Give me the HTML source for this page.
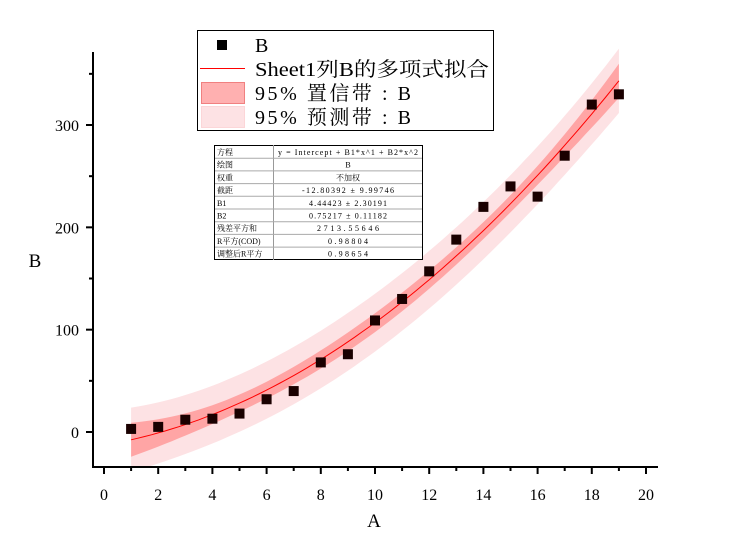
<!DOCTYPE html>
<html><head><meta charset="utf-8"><style>
html,body{margin:0;padding:0;background:#fff;width:743px;height:538px;overflow:hidden}
svg text{font-family:"Liberation Serif","Noto Serif CJK SC",serif}
</style></head><body>
<svg id="s" width="743" height="538" xmlns="http://www.w3.org/2000/svg">
<defs><clipPath id="c"><rect x="93" y="40" width="570" height="427"/></clipPath></defs>
<g id="bands" clip-path="url(#c)"></g>
<g id="pts"></g>
<g id="axes" stroke="#000" stroke-width="2"></g>
<g id="lbl" font-size="16" fill="#000"></g>
<text x="35" y="267" font-size="19" text-anchor="middle">B</text>
<text x="374" y="527" font-size="19" text-anchor="middle">A</text>
<rect x="197.5" y="30.5" width="296" height="100" fill="#fff" stroke="#000" stroke-width="1"/>
<rect x="217" y="40" width="10" height="10" fill="#000"/>
<line x1="200" y1="68.5" x2="245" y2="68.5" stroke="#f00" stroke-width="1"/>
<rect x="201.5" y="82.5" width="43" height="21" fill="#ffb0b0" stroke="#f08080"/>
<rect x="201.5" y="106.5" width="43" height="21" fill="#fde2e4" stroke="#fcd6d8"/>
<g font-size="20" fill="#000">
<text x="255" y="52">B</text>
<text x="255" y="76" textLength="234" lengthAdjust="spacingAndGlyphs">Sheet1列B的多项式拟合</text>
<text x="255" y="100" textLength="156" lengthAdjust="spacing">95% 置信带 : B</text>
<text x="255" y="124" textLength="156" lengthAdjust="spacing">95% 预测带 : B</text>
</g>
<g id="tbl" font-size="8" fill="#000"></g>
</svg>
<script>
const X=x=>104+(x)*27.1, Y=y=>432-y*1.0233;
const f=x=>-12.80392+4.44423*x+0.75217*x*x;
const h=x=>{const t=x-10;return 1/19+t*t/570+(t*t-30)*(t*t-30)/13566};
const k=2.12*12.6;
function band(pred){let up=[],dn=[];for(let x=1;x<=19.001;x+=0.25){const w=k*Math.sqrt(h(x)+(pred?1:0));up.push(X(x).toFixed(1)+','+Y(f(x)+w).toFixed(1));dn.unshift(X(x).toFixed(1)+','+Y(f(x)-w).toFixed(1));}return up.concat(dn).join(' ');}
let line=[];for(let x=1;x<=19.001;x+=0.25)line.push(X(x).toFixed(1)+','+Y(f(x)).toFixed(1));
document.getElementById('bands').innerHTML=
`<polygon points="${band(true)}" fill="#fde2e4"/><polygon points="${band(false)}" fill="#ffa5a5"/><polyline points="${line.join(' ')}" fill="none" stroke="#f00" stroke-width="1"/>`;
const d=[3,5,12,13,18,32,40,68,76,109,130,157,188,220,240,230,270,320,330];
let p='';d.forEach((v,i)=>{p+=`<rect x="${X(i+1)-5}" y="${Y(v)-5}" width="10" height="10" fill="#1a0000"/>`});
document.getElementById('pts').innerHTML=p;
let a=`<line x1="93" y1="52" x2="93" y2="468"/><line x1="92" y1="467" x2="658" y2="467"/>`;
let l='';
for(let i=0;i<=20;i++){const x=X(i);a+=`<line x1="${x}" y1="467" x2="${x}" y2="${i%2?471:474}"/>`;if(i%2==0)l+=`<text x="${x}" y="500" text-anchor="middle">${i}</text>`;}
for(let v=0;v<=350;v+=50){const y=Y(v);a+=`<line x1="93" y1="${y}" x2="${v%100?89:86}" y2="${y}"/>`;if(v%100==0)l+=`<text x="79" y="${y+6}" text-anchor="end">${v}</text>`;}
document.getElementById('axes').innerHTML=a;document.getElementById('lbl').innerHTML=l;
const rows=[['方程','y = Intercept + B1*x^1 + B2*x^2'],['绘图','B'],['权重','不加权'],['截距','-12.80392 ± 9.99746'],['B1','4.44423 ± 2.30191'],['B2','0.75217 ± 0.11182'],['残差平方和','2713.55646'],['R平方(COD)','0.98804'],['调整后R平方','0.98654']];
const lens=[140,0,0,92,78,78,62,40,40];
let t=`<rect x="214.5" y="145.5" width="208" height="114" fill="#fff" stroke="#000"/><line x1="273.5" y1="145" x2="273.5" y2="260" stroke="#999"/>`;
rows.forEach((r,i)=>{const y=145+i*12.7;if(i)t+=`<line x1="215" y1="${y+0.5}" x2="422" y2="${y+0.5}" stroke="#aaa"/>`;const tl=lens[i]?` textLength="${lens[i]}" lengthAdjust="spacing"`:'';t+=`<text x="217" y="${y+10}">${r[0]}</text><text x="348" y="${y+10}" text-anchor="middle"${tl}>${r[1]}</text>`;});
document.getElementById('tbl').innerHTML=t;
</script>
</body></html>
